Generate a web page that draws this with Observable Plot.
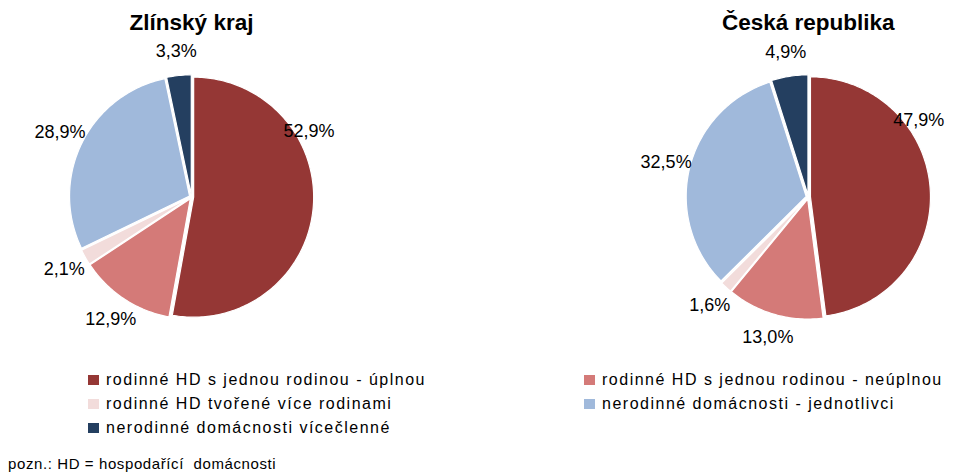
<!DOCTYPE html>
<html>
<head>
<meta charset="utf-8">
<script src="https://cdn.jsdelivr.net/npm/d3@7"></script>
<script src="https://cdn.jsdelivr.net/npm/@observablehq/plot@0.6"></script>
<style>
  body { margin: 0; background: #fff; font-family: "Liberation Sans", Arial, sans-serif; }
  #wrap { position: relative; width: 976px; height: 472px; overflow: hidden; }
  #legend { position: absolute; left: 88px; top: 370px; width: 880px; display: grid;
            grid-template-columns: 496px 380px; row-gap: 4px; }
  .item { display: flex; align-items: center; height: 20px; font-size: 16px; letter-spacing: 1.5px; color: #000; white-space: nowrap; }
  .sw { width: 11px; height: 10px; margin-right: 7px; flex: none; }
  #note { position: absolute; left: 8px; top: 455px; font-size: 15px; letter-spacing: 0.6px; color: #000; white-space: pre; }
</style>
</head>
<body>
<div id="wrap"></div>
<script>
const categories = [
  "rodinné HD s jednou rodinou - úplnou",
  "rodinné HD s jednou rodinou - neúplnou",
  "rodinné HD tvořené více rodinami",
  "nerodinné domácnosti - jednotlivci",
  "nerodinné domácnosti vícečlenné"
];
const regions = ["Zlínský kraj", "Česká republika"];
const zlinValues = [52.9, 12.9, 2.1, 28.9, 3.3];
const czValues = [47.9, 13.0, 1.6, 32.5, 4.9];
const colors = ["#953735", "#D47A78", "#F2DCDB", "#A0B9DB", "#243F60"];
const noteText = "pozn.: HD = hospodařící  domácnosti";

const seriesByRegion = [zlinValues, czValues];

// layout (in units of pie radius)
const gap = 5.14;        // distance between pie centres
const explode = 0.018;   // slice separation
const pxPerUnit = 120;
const W = 976, H = 360;
const cx0 = 191, cy0 = 196.5;

const slicePts = [];
const labels = [];
const titles = [];
regions.forEach((region, ri) => {
  const vals = seriesByRegion[ri];
  const total = d3.sum(vals);
  const cx = ri * gap, cy = 0;
  titles.push({region, x: cx, y: 1.455});
  let acc = 0;
  vals.forEach((v, ci) => {
    const a0 = acc / total * 2 * Math.PI;
    acc += v;
    const a1 = acc / total * 2 * Math.PI;
    const am = (a0 + a1) / 2;
    const ox = cx + explode * Math.sin(am), oy = cy + explode * Math.cos(am);
    const key = region + "|" + ci;
    slicePts.push({key, cat: categories[ci], x: ox, y: oy});
    const n = Math.max(2, Math.ceil((a1 - a0) / (Math.PI / 180)));
    for (let k = 0; k <= n; k++) {
      const a = a0 + (a1 - a0) * k / n;
      slicePts.push({key, cat: categories[ci], x: ox + Math.sin(a), y: oy + Math.cos(a)});
    }
    // best-fit style label: large slices get their label in the upper part of the arc
    const big = v / total > 0.4;
    const al = big ? a0 + (a1 - a0) * 0.32 : am;
    const s = Math.sin(al), c = Math.cos(al);
    const R = big ? 1.12 : 1.22;
    labels.push({
      text: v.toFixed(1).replace(".", ",") + "%",
      x: cx + R * s, y: cy + R * c,
      anchor: s > 0.3 ? "start" : s < -0.3 ? "end" : "middle"
    });
  });
});

const xmin = -cx0 / pxPerUnit, xmax = (W - cx0) / pxPerUnit;
const ymax = cy0 / pxPerUnit, ymin = -(H - cy0) / pxPerUnit;

const chart = Plot.plot({
  width: W, height: H,
  margin: 0,
  style: {fontFamily: "'Liberation Sans', Arial, sans-serif", background: "white"},
  x: {domain: [xmin, xmax], axis: null},
  y: {domain: [ymin, ymax], axis: null},
  color: {domain: categories, range: colors},
  marks: [
    Plot.line(slicePts, {x: "x", y: "y", z: "key", fill: "cat", stroke: "white", strokeWidth: 1.2, curve: "linear-closed"}),
    Plot.text(labels, {x: "x", y: "y", text: "text", textAnchor: "anchor", fontSize: 18, fill: "black"}),
    Plot.text(titles, {x: "x", y: "y", text: "region", fontSize: 22.5, fontWeight: "bold", fill: "black"})
  ]
});

const wrap = document.getElementById("wrap");
wrap.appendChild(chart);

const legend = document.createElement("div");
legend.id = "legend";
categories.forEach((c, i) => {
  const it = document.createElement("div");
  it.className = "item";
  const sw = document.createElement("span");
  sw.className = "sw";
  sw.style.background = colors[i];
  it.appendChild(sw);
  it.appendChild(document.createTextNode(c));
  legend.appendChild(it);
});
wrap.appendChild(legend);

const note = document.createElement("div");
note.id = "note";
note.textContent = noteText;
wrap.appendChild(note);
</script>
</body>
</html>
